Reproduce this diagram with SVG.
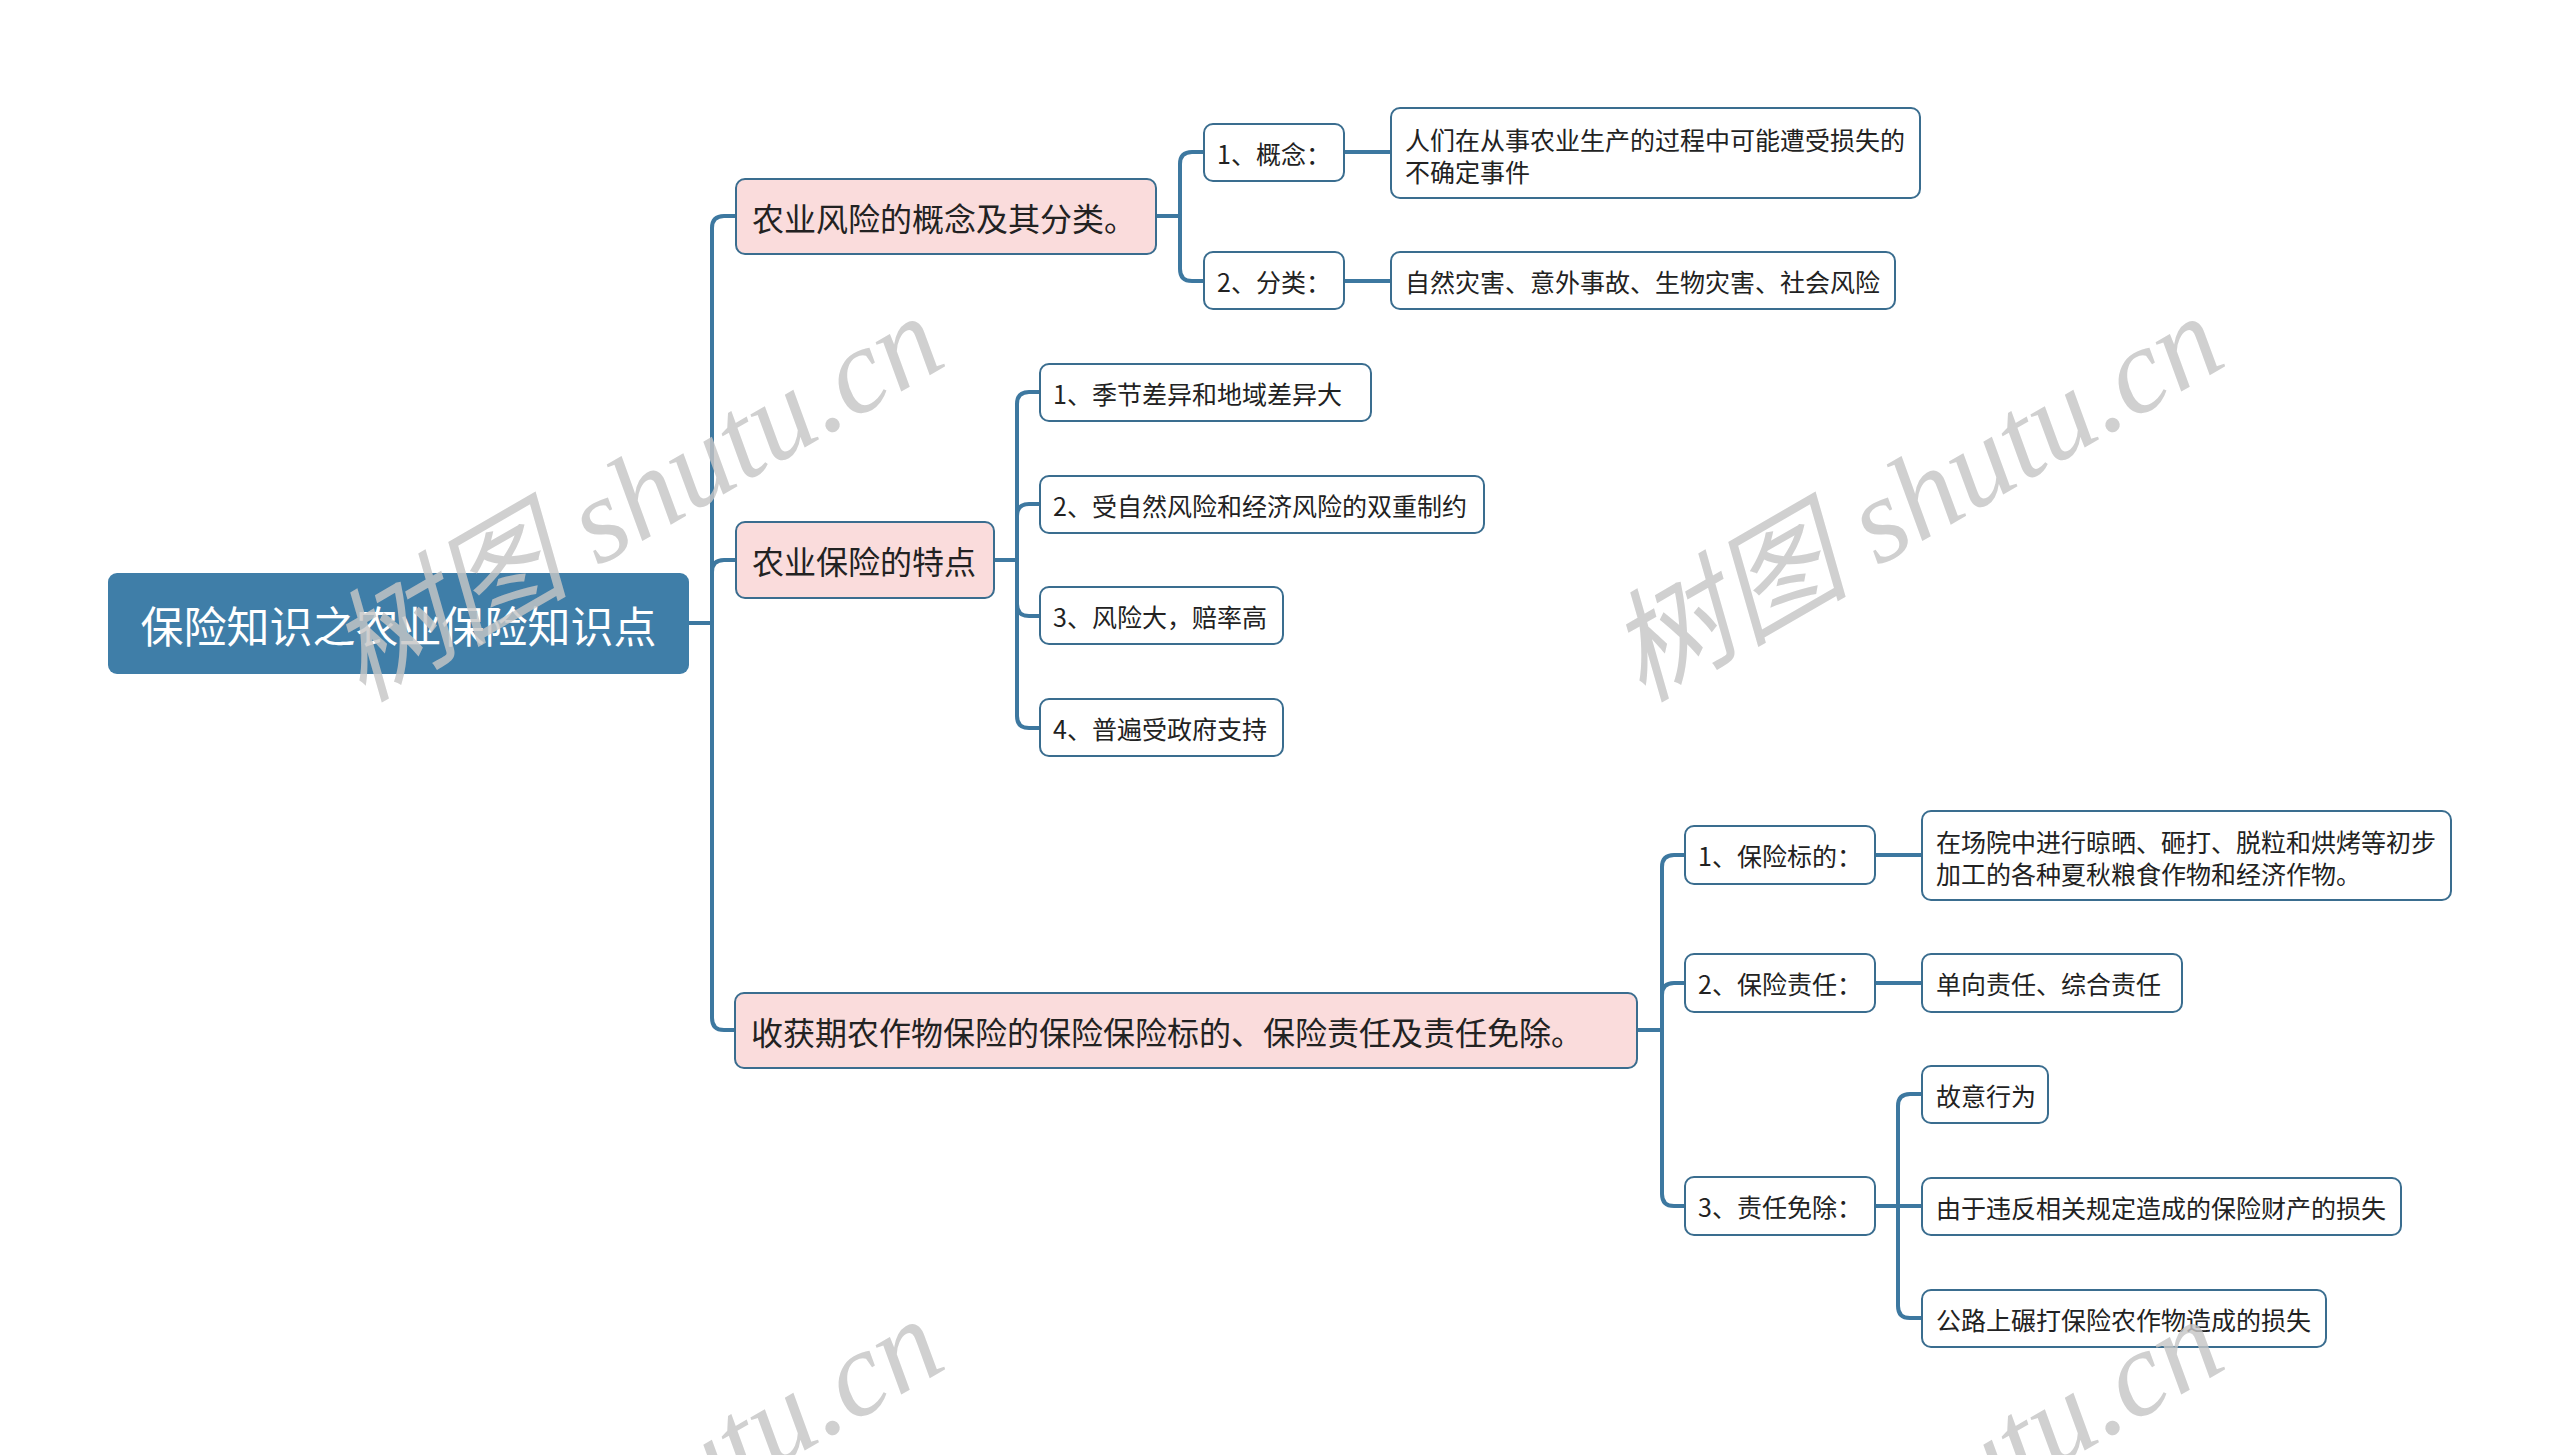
<svg xmlns="http://www.w3.org/2000/svg" width="2560" height="1455" viewBox="0 0 2560 1455">
<style>
.bg{fill:#ffffff}
.conn{fill:none;stroke:#3d78a0;stroke-width:4;stroke-linecap:round;stroke-linejoin:round}
.root rect{fill:#3f7ea8}
.l1 rect{fill:#fadcdc;stroke:#3a6d8f;stroke-width:2}
.l2 rect{fill:#ffffff;stroke:#3a6d8f;stroke-width:2}
text{font-family:"Noto Sans CJK SC","Noto Sans",sans-serif;dominant-baseline:central}
.root text{font-size:43px;fill:#ffffff}
.l1 text{font-size:32px;fill:#222222}
.l2 text{font-size:25px;fill:#222222}
.wm{font-family:"Liberation Serif","Noto Sans CJK SC",serif;font-style:italic;font-size:121px;fill:#c6c6c6;opacity:0.82;dominant-baseline:alphabetic}
</style>
<rect class="bg" x="0" y="0" width="2560" height="1455"/>

<g id="connectors">
  <path class="conn" d="M689,623 H712 V228 Q712,216 724,216 H735"/>
  <path class="conn" d="M689,623 H712 V572 Q712,560 724,560 H735"/>
  <path class="conn" d="M689,623 H712 V1018 Q712,1030 724,1030 H735"/>
  <path class="conn" d="M1156,216 H1180 V164 Q1180,152 1192,152 H1204"/>
  <path class="conn" d="M1156,216 H1180 V269 Q1180,281 1192,281 H1204"/>
  <path class="conn" d="M1344,152 H1391"/>
  <path class="conn" d="M1344,281 H1391"/>
  <path class="conn" d="M994,560 H1017 V404 Q1017,392 1029,392 H1040"/>
  <path class="conn" d="M994,560 H1017 V516 Q1017,504 1029,504 H1040"/>
  <path class="conn" d="M994,560 H1017 V604 Q1017,616 1029,616 H1040"/>
  <path class="conn" d="M994,560 H1017 V716 Q1017,728 1029,728 H1040"/>
  <path class="conn" d="M1637,1030 H1662 V867 Q1662,855 1674,855 H1685"/>
  <path class="conn" d="M1637,1030 H1662 V995 Q1662,983 1674,983 H1685"/>
  <path class="conn" d="M1637,1030 H1662 V1194 Q1662,1206 1674,1206 H1685"/>
  <path class="conn" d="M1875,855 H1922"/>
  <path class="conn" d="M1875,983 H1922"/>
  <path class="conn" d="M1875,1206 H1898 V1106 Q1898,1094 1910,1094 H1922"/>
  <path class="conn" d="M1875,1206 H1922"/>
  <path class="conn" d="M1875,1206 H1898 V1306 Q1898,1318 1910,1318 H1922"/>
</g>

<g id="root" class="root">
  <rect x="108" y="573" width="581" height="101" rx="9"/>
  <text x="398.5" y="624" text-anchor="middle">保险知识之农业保险知识点</text>
</g>

<g id="n-a" class="l1">
  <rect x="736" y="179" width="420" height="75" rx="9"/>
  <text x="752" y="217">农业风险的概念及其分类。</text>
</g>
<g id="n-b" class="l1">
  <rect x="736" y="522" width="258" height="76" rx="9"/>
  <text x="752" y="560">农业保险的特点</text>
</g>
<g id="n-c" class="l1">
  <rect x="735" y="993" width="902" height="75" rx="9"/>
  <text x="751" y="1031">收获期农作物保险的保险保险标的、保险责任及责任免除。</text>
</g>

<g id="n-a1" class="l2">
  <rect x="1204" y="124" width="140" height="57" rx="9"/>
  <text x="1217" y="153">1、概念：</text>
</g>
<g id="n-a1-1" class="l2">
  <rect x="1391" y="108" width="529" height="90" rx="9"/>
  <text x="1405" y="139">人们在从事农业生产的过程中可能遭受损失的</text>
  <text x="1405" y="171">不确定事件</text>
</g>
<g id="n-a2" class="l2">
  <rect x="1204" y="252" width="140" height="57" rx="9"/>
  <text x="1217" y="281">2、分类：</text>
</g>
<g id="n-a2-1" class="l2">
  <rect x="1391" y="252" width="504" height="57" rx="9"/>
  <text x="1405" y="281">自然灾害、意外事故、生物灾害、社会风险</text>
</g>

<g id="n-b1" class="l2">
  <rect x="1040" y="364" width="331" height="57" rx="9"/>
  <text x="1053" y="393">1、季节差异和地域差异大</text>
</g>
<g id="n-b2" class="l2">
  <rect x="1040" y="476" width="444" height="57" rx="9"/>
  <text x="1053" y="505">2、受自然风险和经济风险的双重制约</text>
</g>
<g id="n-b3" class="l2">
  <rect x="1040" y="587" width="243" height="57" rx="9"/>
  <text x="1053" y="616">3、风险大，赔率高</text>
</g>
<g id="n-b4" class="l2">
  <rect x="1040" y="699" width="243" height="57" rx="9"/>
  <text x="1053" y="728">4、普遍受政府支持</text>
</g>

<g id="n-c1" class="l2">
  <rect x="1685" y="826" width="190" height="58" rx="9"/>
  <text x="1698" y="855">1、保险标的：</text>
</g>
<g id="n-c1-1" class="l2">
  <rect x="1922" y="811" width="529" height="89" rx="9"/>
  <text x="1936" y="841">在场院中进行晾晒、砸打、脱粒和烘烤等初步</text>
  <text x="1936" y="873">加工的各种夏秋粮食作物和经济作物。</text>
</g>
<g id="n-c2" class="l2">
  <rect x="1685" y="954" width="190" height="58" rx="9"/>
  <text x="1698" y="983">2、保险责任：</text>
</g>
<g id="n-c2-1" class="l2">
  <rect x="1922" y="954" width="260" height="58" rx="9"/>
  <text x="1936" y="983">单向责任、综合责任</text>
</g>
<g id="n-c3" class="l2">
  <rect x="1685" y="1177" width="190" height="58" rx="9"/>
  <text x="1698" y="1206">3、责任免除：</text>
</g>
<g id="n-c3-1" class="l2">
  <rect x="1922" y="1066" width="126" height="57" rx="9"/>
  <text x="1936" y="1095">故意行为</text>
</g>
<g id="n-c3-2" class="l2">
  <rect x="1922" y="1178" width="479" height="57" rx="9"/>
  <text x="1936" y="1207">由于违反相关规定造成的保险财产的损失</text>
</g>
<g id="n-c3-3" class="l2">
  <rect x="1922" y="1290" width="404" height="57" rx="9"/>
  <text x="1936" y="1319">公路上碾打保险农作物造成的损失</text>
</g>

<g id="watermarks">
  <text class="wm" transform="translate(362,703) rotate(-30)">树图 shutu.cn</text>
  <text class="wm" transform="translate(1642,703) rotate(-30)">树图 shutu.cn</text>
  <text class="wm" transform="translate(362,1706) rotate(-30)">树图 shutu.cn</text>
  <text class="wm" transform="translate(1642,1706) rotate(-30)">树图 shutu.cn</text>
</g>
</svg>
